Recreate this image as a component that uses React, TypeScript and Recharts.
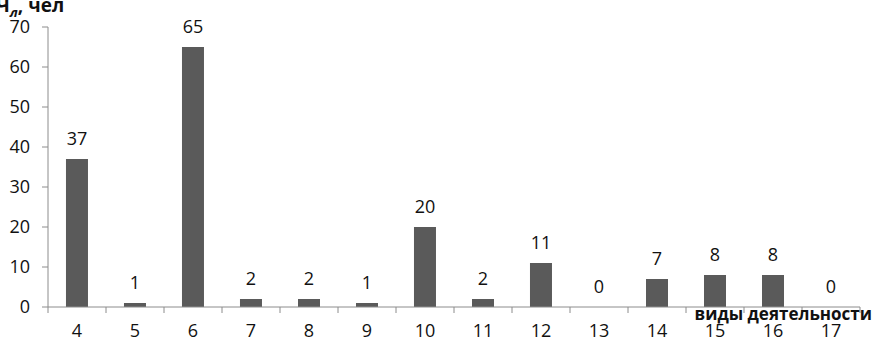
import { ComposedChart, Bar, Line, XAxis, YAxis, LabelList } from 'recharts'

const categories = ['4', '5', '6', '7', '8', '9', '10', '11', '12', '13', '14', '15', '16', '17']
const values = [37, 1, 65, 2, 2, 1, 20, 2, 11, 0, 7, 8, 8, 0]
const yTicks = [0, 10, 20, 30, 40, 50, 60, 70]

const W = 876
const H = 341
const LEFT = 48
const RIGHT = 16
const FONT = '"Open Sans", "Liberation Sans", sans-serif'

const data = categories.map((c, i) => ({ cat: c, value: values[i] }))
const band = (W - LEFT - RIGHT) / categories.length

// tick marks sit between categories, labels centred in each band
function XTick(props: any) {
  const { x, y, payload, index } = props
  const left = x - band / 2
  return (
    <g>
      <line x1={left} y1={y - 8} x2={left} y2={y - 2} stroke="#8c8c8c" />
      {index === categories.length - 1 && (
        <line x1={left + band} y1={y - 8} x2={left + band} y2={y - 2} stroke="#8c8c8c" />
      )}
      <text x={x} y={y + 22} textAnchor="middle" fontSize={18} fill="#111" fontFamily={FONT}>
        {payload.value}
      </text>
    </g>
  )
}

function TopLabel(props: any) {
  const { x, y, value } = props
  return (
    <text x={x} y={y - 14} textAnchor="middle" fontSize={18} fill="#111" fontFamily={FONT}>
      {value}
    </text>
  )
}

export default function App() {
  return (
    <div style={{ position: 'absolute', left: 0, top: 0, width: W, height: H, background: '#fff' }}>
      <div style={{ position: 'absolute', left: -4, top: -8, fontFamily: FONT, fontWeight: 700, fontSize: 19, color: '#111' }}>
        Ч<sub style={{ fontSize: 13, fontStyle: 'italic' }}>л</sub>, чел
      </div>
      <ComposedChart width={W} height={H} data={data} margin={{ top: 27, right: RIGHT, bottom: 0, left: 0 }} barCategoryGap="31%">
        <YAxis
          domain={[0, 70]}
          ticks={yTicks}
          width={LEFT}
          axisLine={{ stroke: '#8c8c8c' }}
          tickLine={{ stroke: '#8c8c8c' }}
          tickSize={6}
          tickMargin={12}
          tick={{ fontSize: 18, fill: '#111', fontFamily: FONT }}
          interval={0}
        />
        <XAxis
          dataKey="cat"
          height={34}
          axisLine={{ stroke: '#8c8c8c' }}
          tickLine={false}
          tick={<XTick />}
          interval={0}
        />
        <Bar dataKey="value" fill="#5a5a5a" isAnimationActive={false} />
        <Line dataKey="value" stroke="none" dot={false} activeDot={false} isAnimationActive={false}>
          <LabelList dataKey="value" content={<TopLabel />} />
        </Line>
      </ComposedChart>
      <div style={{ position: 'absolute', right: 4, top: 302, fontFamily: FONT, fontWeight: 700, fontSize: 17, color: '#111' }}>
        виды деятельности
      </div>
    </div>
  )
}
